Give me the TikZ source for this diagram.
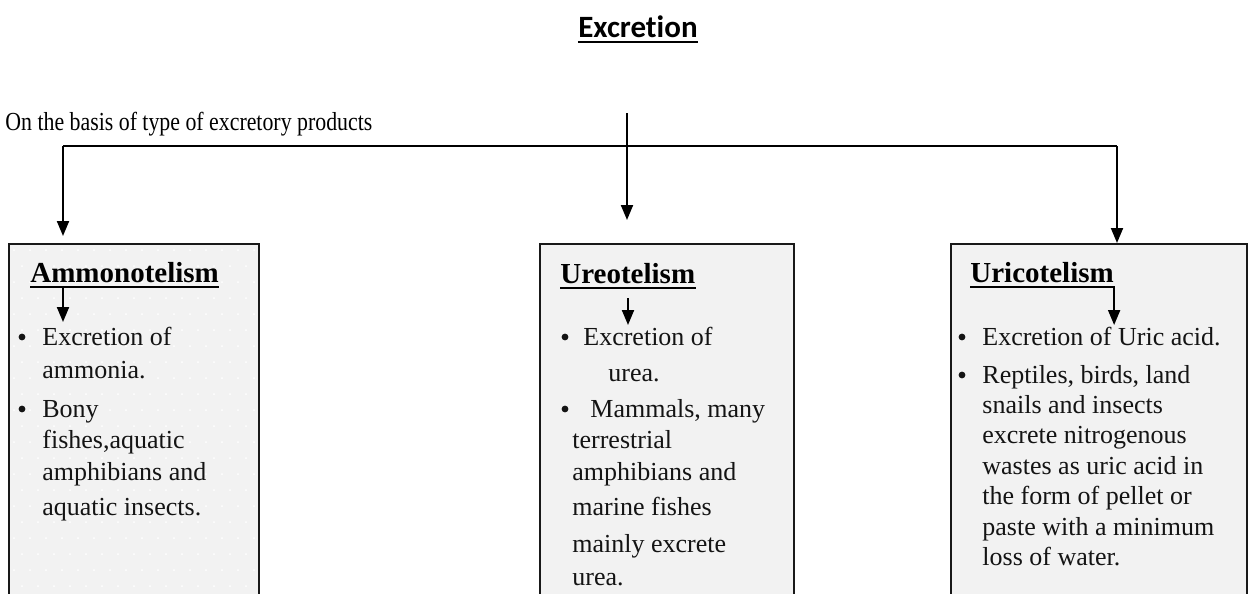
\documentclass[tikz,border=0pt]{standalone}
\usepackage{fontspec}
\setmainfont{Liberation Serif}
\newfontfamily\titlefont[Ligatures=NoCommon]{Carlito}
\newfontfamily\narrowfont[FakeStretch=0.84]{Liberation Serif}
\usetikzlibrary{arrows.meta}
\definecolor{boxfill}{RGB}{242,242,242}
\definecolor{boxline}{RGB}{25,25,25}
\definecolor{darktext}{RGB}{20,20,20}

\begin{document}
\begin{tikzpicture}[x=0.5pt, y=-0.5pt,
  txt/.style={anchor=base west, inner sep=0pt, text=darktext, font=\fontsize{13}{16}\selectfont},
  head/.style={anchor=base west, inner sep=0pt, font=\fontsize{14.5}{17}\selectfont\bfseries},
  dot/.style={circle, fill=darktext, inner sep=0pt, minimum size=3.4pt},
  catbox/.style={draw=boxline, line width=0.85pt, fill=boxfill, anchor=north west, inner sep=0pt},
  link/.style={line width=1pt, -{Triangle[length=7.5pt, width=6pt]}},
  uline/.style={line width=1pt}]
  \useasboundingbox (0,0) rectangle (1248,594);
  % title
  \node[anchor=base, inner sep=0pt, font=\titlefont\bfseries\fontsize{15.5}{18}\selectfont] (title) at (638,37) {Excretion};
  \draw[uline] ([yshift=-2.5pt]title.base west) -- ([yshift=-2.5pt]title.base east);
  \node[anchor=base west, inner sep=0pt, font=\narrowfont\fontsize{13}{16}\selectfont] (basis) at (5,130) {On the basis of type of excretory products};
  % the three boxes
  \node[catbox, minimum width=125pt, minimum height=190pt] (ammbox) at (8,243) {};
  \node[catbox, minimum width=127pt, minimum height=190pt] (urebox) at (539,243) {};
  \node[catbox, minimum width=148pt, minimum height=190pt] (uribox) at (950,243) {};
  % faint dots in the first box
  \begin{scope}
    \clip ([shift={(1pt,-1pt)}]ammbox.north west) rectangle ([shift={(-1pt,1pt)}]ammbox.south east);
    \foreach \i in {0,...,16}
      \foreach \j in {0,...,22}
        \fill[white] ({14+\i*16+mod(\j,2)*8}, {250+\j*16}) circle (0.5pt);
  \end{scope}
  % branching arrows
  \coordinate (top) at (627,113);
  \coordinate (mid) at (627,220);
  \coordinate (jl) at (63,146);
  \coordinate (jr) at (1117,146);
  \draw[line width=0.75pt] (jl) -- (jr);
  \draw[link] (top) -- (mid);
  \draw[link] (jl) -- ([yshift=3.5pt]ammbox.north -| jl);
  \draw[link] (jr) -- (uribox.north -| jr);
  % headings
  \node[head] (ammhead) at (30,282) {Ammonotelism};
  \node[head] (urehead) at (560,283) {Ureotelism};
  \node[head] (urihead) at (970,282) {Uricotelism};
  \draw[uline] ([yshift=-2.5pt]ammhead.base west) -- ([yshift=-2.5pt]ammhead.base east);
  \draw[uline] ([yshift=-2.5pt]urehead.base west) -- ([yshift=-2.5pt]urehead.base east);
  \draw[link] ([yshift=-2.5pt]urihead.base west) -- ([yshift=-2.5pt]urihead.base east) -- ++(0,38);
  \coordinate (amm-a) at (63,287);
  \coordinate (amm-z) at (63,322);
  \coordinate (ure-a) at (628,298);
  \coordinate (ure-z) at (628,325);
  \draw[link] (amm-a) -- (amm-z);
  \draw[link] (ure-a) -- (ure-z);
  % ammonotelism text
  \node[dot] (amm-dot1) at (22,337) {};
  \node[dot] (amm-dot2) at (22,409) {};
  \foreach \y/\t [count=\i] in {345/Excretion of, 378/ammonia., 417/Bony,
      {448/fishes,aquatic}, 480/amphibians and, 515/aquatic insects.}
    \node[txt] (amm-\i) at (42,\y) {\t};
  % ureotelism text
  \node[dot] (ure-dot1) at (565,337) {};
  \node[dot] (ure-dot2) at (565,409) {};
  \foreach \x/\y/\t [count=\i] in {583/345/Excretion of, 608/381/urea.,
      {590/417/Mammals, many}, 572/448/terrestrial, 572/480/amphibians and,
      572/515/marine fishes, 572/552/mainly excrete, 572/585/urea.}
    \node[txt] (ure-\i) at (\x,\y) {\t};
  % uricotelism text
  \node[dot] (uri-dot1) at (962,337) {};
  \node[dot] (uri-dot2) at (962,375) {};
  \foreach \y/\t [count=\i] in {345/Excretion of Uric acid., {383/Reptiles, birds, land},
      413/snails and insects, 443/excrete nitrogenous, 474/wastes as uric acid in,
      504/the form of pellet or, 535/paste with a minimum, 565/loss of water.}
    \node[txt] (uri-\i) at (982,\y) {\t};
\end{tikzpicture}
\end{document}
